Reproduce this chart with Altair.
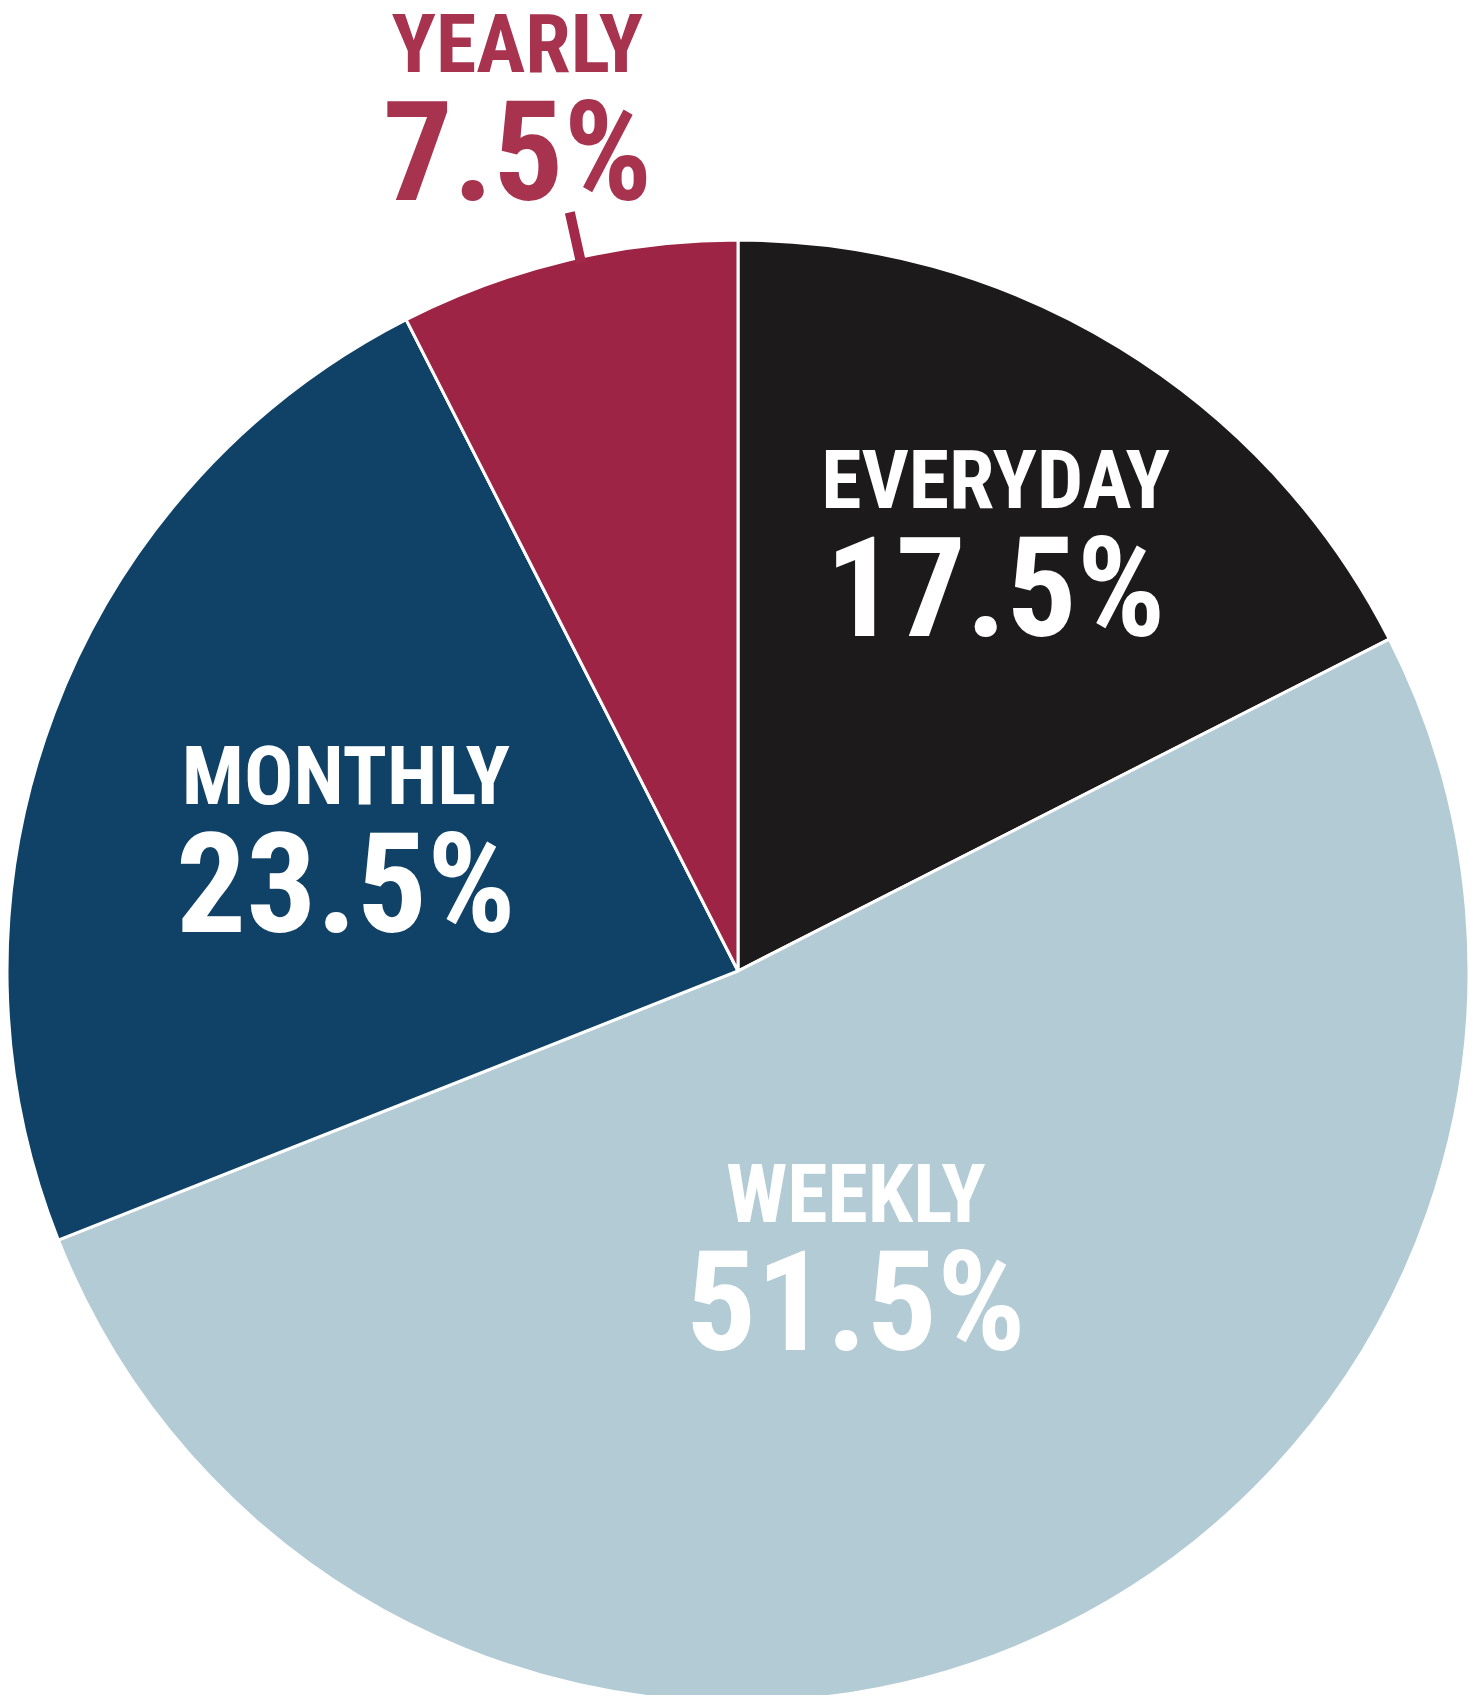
import altair as alt
import pandas as pd

# ---- data ----
categories = ["EVERYDAY", "WEEKLY", "MONTHLY", "YEARLY"]
shares = [17.5, 51.5, 23.5, 7.5]
pct_labels = ["17.5%", "51.5%", "23.5%", "7.5%"]

# ---- styles / layout ----
slice_colors = ["#1D1A1B", "#B3CBD4", "#0F4266", "#9E2445"]
label_colors = ["#FFFFFF", "#FFFFFF", "#FFFFFF", "#A8334F"]
LABEL_R = [500, 308, 414, 893]          # label radius (px)
LABEL_DA = [-0.5, 1.8, -2.0, -0.8]      # label angle nudge (degrees)
W, H = 1462, 1687
CX, CY, R = 730, 963, 731
FONT = "Roboto Condensed, Liberation Sans Narrow, Arial Narrow, Roboto, sans-serif"

df = pd.DataFrame({
    "cat": categories,
    "share": shares,
    "pct": pct_labels,
    "order": list(range(len(categories))),
    "lr": LABEL_R,
    "da": LABEL_DA,
})

tscale = alt.Scale(domain=[0, 100])
cx = alt.value(CX)
cy = alt.value(CY)

pie = alt.Chart(df).mark_arc(outerRadius=R, stroke="white", strokeWidth=3).encode(
    theta=alt.Theta("share:Q", stack=True, scale=tscale),
    order=alt.Order("order:Q"),
    x=cx, y=cy,
    color=alt.Color("cat:N", scale=alt.Scale(domain=categories, range=slice_colors), legend=None),
)

# cumulative position of each slice, in percent of the circle
cum = alt.Chart(df).transform_window(
    cum="sum(share)", sort=[alt.SortField("order")], frame=[None, 0]
).transform_calculate(
    mid="datum.cum - datum.share / 2",
    lt="datum.cum - datum.share / 2 + datum.da / 3.6",
)

fill = alt.Fill("cat:N", scale=alt.Scale(domain=categories, range=label_colors), legend=None)
radius = alt.Radius("lr:Q", scale=None)
ltheta = alt.Theta("lt:Q", stack=None, scale=tscale)

names = cum.mark_text(
    font=FONT, fontSize=82, fontWeight="bold", baseline="alphabetic", align="center", dy=-34
).encode(theta=ltheta, x=cx, y=cy, radius=radius, fill=fill, text="cat:N")

pcts = cum.mark_text(
    font=FONT, fontSize=139, fontWeight="bold", baseline="alphabetic", align="center", dy=94
).encode(theta=ltheta, x=cx, y=cy, radius=radius, fill=fill, text="pct:N")

r1, r2, lda = 725, 777, 1.0
leader = cum.transform_calculate(
    ang=f"(datum.mid + {lda} / 3.6) / 100 * 2 * PI"
).transform_calculate(
    x1=f"{CX} + {r1} * sin(datum.ang)",
    y1=f"{CY} - {r1} * cos(datum.ang)",
    x2=f"{CX} + {r2} * sin(datum.ang)",
    y2=f"{CY} - {r2} * cos(datum.ang)",
).transform_filter(alt.datum.cat == "YEARLY").mark_rule(
    color="#A32849", strokeWidth=10
).encode(
    x=alt.X("x1:Q", scale=None, axis=None),
    y=alt.Y("y1:Q", scale=None, axis=None),
    x2="x2:Q",
    y2="y2:Q",
)

chart = alt.layer(pie, leader, names, pcts).properties(
    width=W, height=H, padding=0, background="white",
    autosize=alt.AutoSizeParams(type="none"),
).resolve_scale(fill="independent").configure_view(stroke=None)

chart.save("out.html", embed_options={"renderer": "svg", "actions": False})
